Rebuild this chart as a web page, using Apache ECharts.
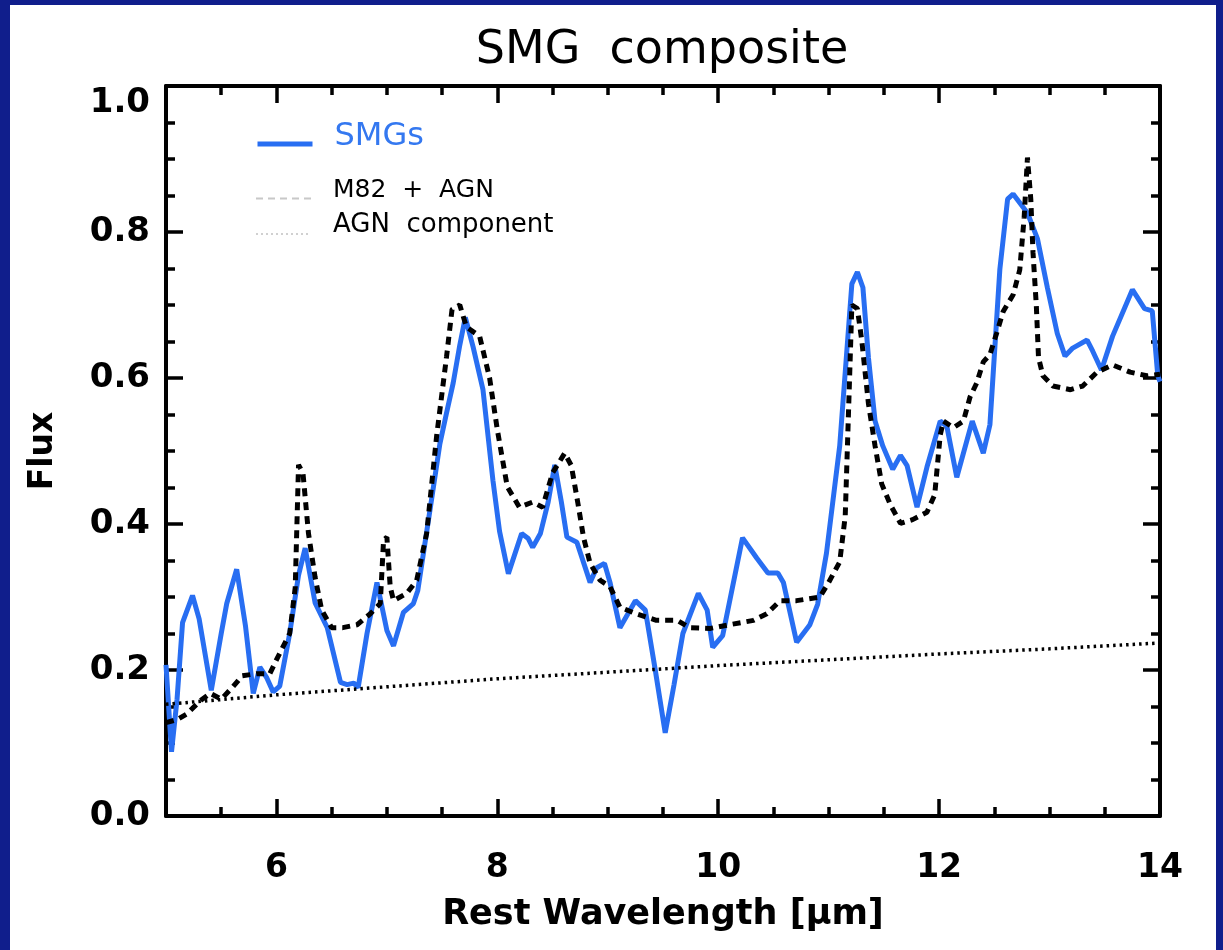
<!DOCTYPE html>
<html>
<head>
<meta charset="utf-8">
<script src="https://cdn.jsdelivr.net/npm/echarts@6.0.0/dist/echarts.min.js"></script>
<style>
  html, body { margin: 0; padding: 0; width: 1223px; height: 950px; overflow: hidden; background: #101e8c; }
  #panel { position: absolute; left: 10px; top: 5px; width: 1206px; height: 945px; background: #ffffff; }
  #chart { position: absolute; left: 0; top: 0; width: 1223px; height: 950px; }
</style>
</head>
<body>
<div id="panel"></div>
<div id="chart"></div>
<script>
// ---- data ----
const smgWavelength = [5.00,5.05,5.10,5.15,5.24,5.30,5.41,5.50,5.55,5.64,5.72,5.79,5.85,5.91,5.97,6.03,6.12,6.20,6.26,6.35,6.46,6.58,6.64,6.70,6.74,6.82,6.91,7.00,7.06,7.15,7.24,7.28,7.39,7.48,7.54,7.60,7.66,7.71,7.78,7.87,7.96,8.02,8.10,8.22,8.28,8.32,8.39,8.46,8.52,8.58,8.63,8.72,8.84,8.90,8.97,9.02,9.11,9.25,9.34,9.43,9.52,9.60,9.68,9.82,9.90,9.95,10.04,10.22,10.35,10.45,10.54,10.59,10.71,10.83,10.90,10.98,11.10,11.21,11.26,11.31,11.36,11.42,11.49,11.58,11.65,11.71,11.80,11.89,12.01,12.07,12.16,12.30,12.40,12.46,12.55,12.62,12.67,12.80,12.89,12.98,13.07,13.14,13.21,13.34,13.39,13.47,13.57,13.75,13.86,13.93,13.98,14.00];
const smgFlux = [0.207,0.088,0.160,0.265,0.302,0.270,0.172,0.250,0.291,0.338,0.260,0.168,0.204,0.190,0.170,0.178,0.250,0.330,0.367,0.292,0.258,0.183,0.180,0.182,0.176,0.250,0.320,0.254,0.233,0.279,0.291,0.309,0.419,0.510,0.552,0.593,0.645,0.683,0.643,0.584,0.460,0.390,0.332,0.387,0.380,0.368,0.387,0.430,0.481,0.430,0.382,0.375,0.320,0.340,0.346,0.320,0.258,0.295,0.282,0.200,0.114,0.180,0.250,0.305,0.282,0.231,0.247,0.381,0.353,0.333,0.333,0.320,0.238,0.262,0.290,0.360,0.507,0.729,0.745,0.724,0.628,0.541,0.507,0.475,0.494,0.480,0.423,0.478,0.541,0.534,0.464,0.541,0.497,0.536,0.749,0.845,0.852,0.826,0.791,0.724,0.661,0.630,0.641,0.652,0.637,0.611,0.657,0.721,0.695,0.692,0.603,0.595];

const m82Wavelength = [5.00,5.10,5.19,5.31,5.40,5.50,5.60,5.69,5.82,5.94,6.01,6.12,6.17,6.20,6.24,6.29,6.35,6.41,6.50,6.60,6.73,6.85,6.94,6.97,7.00,7.03,7.06,7.18,7.27,7.36,7.45,7.54,7.59,7.66,7.72,7.84,7.93,8.00,8.09,8.20,8.32,8.41,8.50,8.61,8.67,8.73,8.78,8.84,8.93,9.02,9.11,9.26,9.44,9.63,9.74,9.93,10.10,10.32,10.44,10.56,10.71,10.92,11.00,11.10,11.15,11.18,11.21,11.26,11.30,11.36,11.42,11.48,11.56,11.65,11.76,11.89,11.96,12.01,12.04,12.13,12.22,12.28,12.34,12.40,12.46,12.52,12.58,12.67,12.73,12.77,12.80,12.83,12.85,12.88,12.90,12.94,13.03,13.19,13.30,13.43,13.57,13.73,13.88,14.00];
const m82Flux = [0.128,0.132,0.140,0.158,0.168,0.160,0.176,0.192,0.195,0.195,0.217,0.250,0.313,0.481,0.470,0.387,0.327,0.282,0.258,0.258,0.262,0.277,0.291,0.378,0.382,0.314,0.295,0.305,0.323,0.387,0.520,0.629,0.694,0.700,0.670,0.657,0.600,0.529,0.451,0.423,0.430,0.423,0.470,0.497,0.480,0.428,0.382,0.346,0.323,0.314,0.286,0.277,0.268,0.268,0.258,0.257,0.262,0.268,0.277,0.295,0.295,0.300,0.320,0.348,0.411,0.555,0.700,0.695,0.651,0.565,0.507,0.455,0.426,0.401,0.406,0.416,0.440,0.522,0.541,0.532,0.541,0.574,0.593,0.622,0.632,0.661,0.691,0.714,0.748,0.820,0.902,0.845,0.772,0.700,0.628,0.603,0.589,0.584,0.589,0.608,0.618,0.608,0.603,0.605];

const agnWavelength = [5,6,7,8,9,10,11,12,13,14];
const agnFlux = [0.153,0.166,0.177,0.188,0.197,0.206,0.214,0.222,0.229,0.237];

const seriesNames = ['SMGs', 'M82  +  AGN', 'AGN  component'];
const titleText = 'SMG  composite';
const xAxisTitle = 'Rest Wavelength [\u03bcm]';
const yAxisTitle = 'Flux';
const xTickLabels = [6, 8, 10, 12, 14];
const xMinorTicks = [5.5, 6.5, 7, 7.5, 8.5, 9, 9.5, 10.5, 11, 11.5, 12.5, 13, 13.5];

// ---- chart ----
const zip = (xs, ys) => xs.map((x, i) => [x, ys[i]]);
const FONT = 'DejaVu Sans';
const BLUE = '#286ef2';

const chart = echarts.init(document.getElementById('chart'), null, { renderer: 'canvas' });

function xAxisDef(position, major, withLabel) {
  return {
    type: 'value', position: position, min: 5, max: 14,
    axisLine: { show: major, onZero: false, lineStyle: { color: '#000', width: 4 } },
    axisTick: { show: true, inside: true, length: major ? 17 : 9,
      customValues: major ? xTickLabels : xMinorTicks,
      lineStyle: { color: '#000', width: 3.5 } },
    axisLabel: withLabel ? { show: true, customValues: xTickLabels, margin: 36,
      fontFamily: FONT, fontSize: 33, fontWeight: 'bold', color: '#000',
      formatter: v => String(v) } : { show: false },
    splitLine: { show: false },
    name: withLabel ? xAxisTitle : '',
    nameLocation: 'middle', nameGap: 81,
    nameTextStyle: { fontFamily: FONT, fontSize: 35, fontWeight: 'bold', color: '#000' }
  };
}
function yAxisDef(position, withLabel) {
  return {
    type: 'value', position: position, min: 0, max: 1, interval: 0.2,
    axisLine: { show: true, onZero: false, lineStyle: { color: '#000', width: 4 } },
    axisTick: { show: true, inside: true, length: 17, lineStyle: { color: '#000', width: 3.5 } },
    minorTick: { show: true, splitNumber: 4, length: 9, lineStyle: { color: '#000', width: 3.5 } },
    axisLabel: withLabel ? { show: true, margin: 16, fontFamily: FONT, fontSize: 34,
      fontWeight: 'bold', color: '#000', formatter: v => v.toFixed(1),
      verticalAlignMaxLabel: 'top' } : { show: false },
    splitLine: { show: false },
    name: withLabel ? yAxisTitle : '',
    nameLocation: 'middle', nameGap: 106,
    nameTextStyle: { fontFamily: FONT, fontSize: 33, fontWeight: 'bold', color: '#000' }
  };
}

function legendDef(name, top, fontSize, color, shift, lineStyle) {
  return {
    data: [name], left: 250, top: top, itemWidth: 55, itemHeight: 14, selectedMode: false,
    itemStyle: { opacity: 0 },
    lineStyle: lineStyle,
    formatter: '{t|{name}}',
    textStyle: {
      color: color, fontFamily: FONT, fontSize: fontSize,
      rich: { t: { color: color, fontFamily: FONT, fontSize: fontSize, padding: [0, 0, shift, 17] } }
    }
  };
}

const option = {
  animation: false,
  backgroundColor: 'transparent',
  textStyle: { fontFamily: FONT },
  title: {
    text: titleText, left: 657, top: 23, textAlign: 'center',
    textStyle: { fontFamily: FONT, fontSize: 46, fontWeight: 'normal', color: '#000' }
  },
  grid: { left: 166, right: 63, top: 86, bottom: 134, containLabel: false, outerBoundsMode: 'none' },
  legend: [
    legendDef(seriesNames[0], 116, 32, '#3478f0', 14, { width: 5 }),
    legendDef(seriesNames[1], 173, 25, '#000', 16, { color: '#c8c8c8', width: 2, type: [7, 5] }),
    legendDef(seriesNames[2], 207, 26, '#000', 18, { color: '#d0d0d0', width: 2, type: [2, 3] })
  ],
  xAxis: [
    xAxisDef('bottom', true, true),
    xAxisDef('bottom', false, false),
    xAxisDef('top', true, false),
    xAxisDef('top', false, false)
  ],
  yAxis: [
    yAxisDef('left', true),
    yAxisDef('right', false)
  ],
  series: [
    { name: seriesNames[0], type: 'line', xAxisIndex: 0, yAxisIndex: 0, symbol: 'none',
      data: zip(smgWavelength, smgFlux), itemStyle: { color: BLUE },
      lineStyle: { color: BLUE, width: 5 } },
    { name: seriesNames[1], type: 'line', xAxisIndex: 0, yAxisIndex: 0, symbol: 'none',
      data: zip(m82Wavelength, m82Flux), itemStyle: { color: '#000' },
      lineStyle: { color: '#000', width: 5, type: [8, 6] } },
    { name: seriesNames[2], type: 'line', xAxisIndex: 0, yAxisIndex: 0, symbol: 'none',
      data: zip(agnWavelength, agnFlux), itemStyle: { color: '#000' },
      lineStyle: { color: '#000', width: 3.5, type: [2.5, 4] } }
  ]
};
chart.setOption(option);
</script>
</body>
</html>
